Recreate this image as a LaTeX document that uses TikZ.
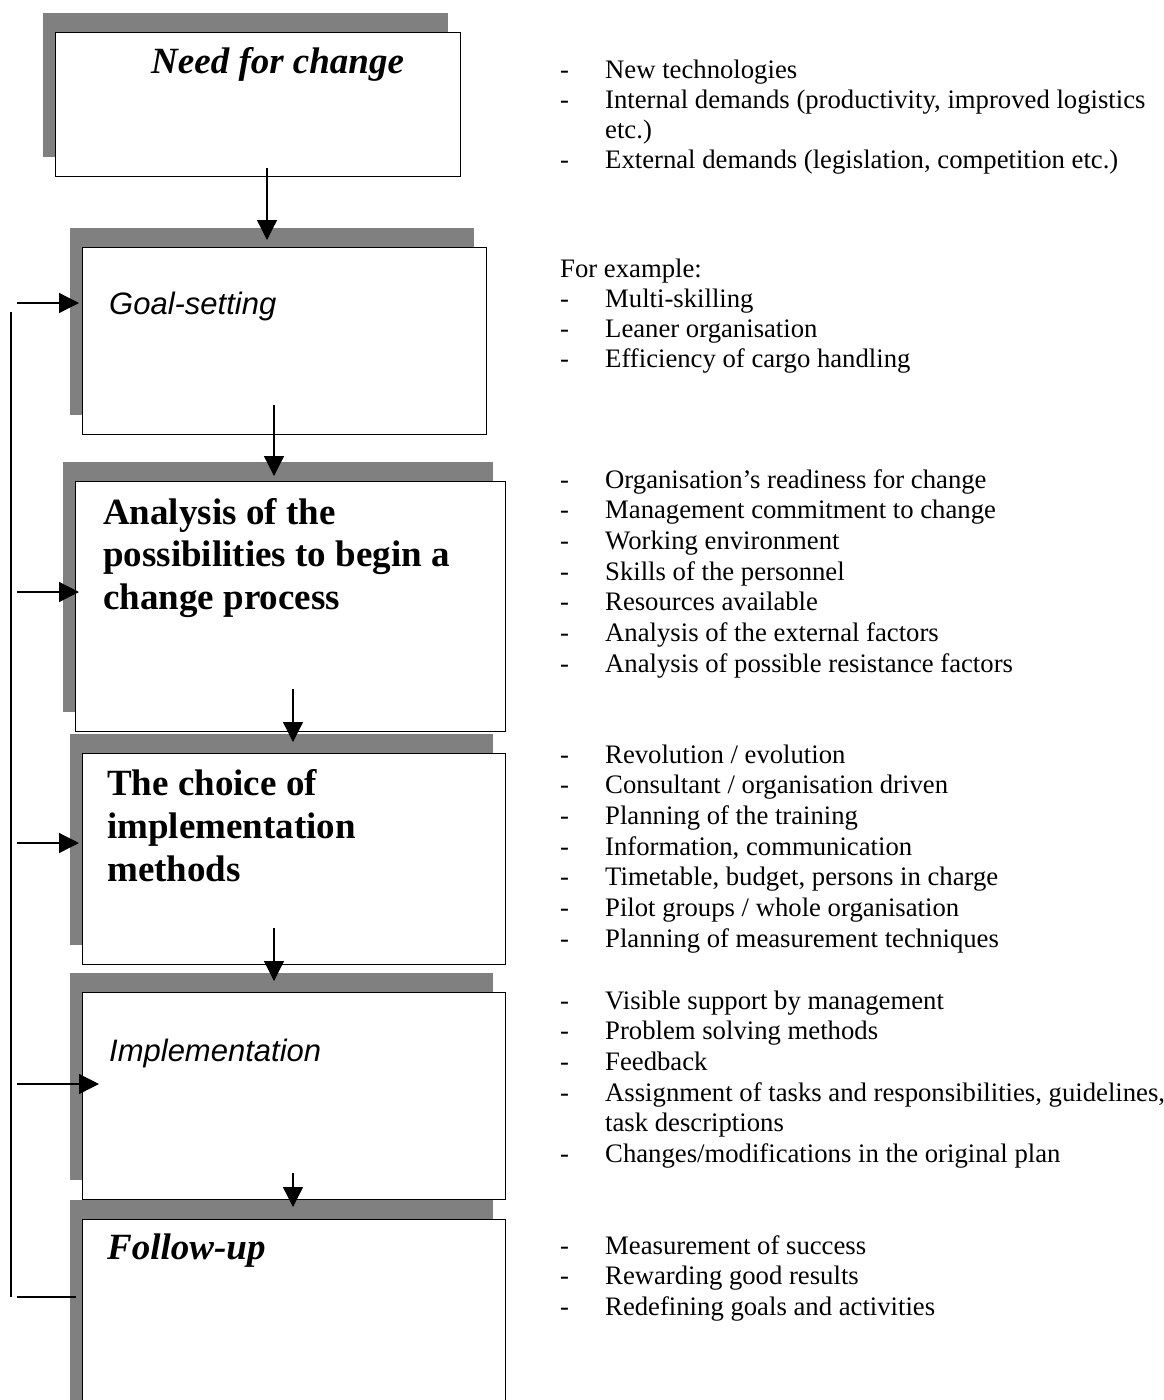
\documentclass[tikz,border=0pt]{standalone}
\usepackage{fontspec}
\setmainfont{Liberation Serif}
\newfontfamily\arialfont{Liberation Sans}
\usetikzlibrary{arrows.meta,calc}

\definecolor{shadowgray}{HTML}{808080}

\begin{document}
\begin{tikzpicture}[x=1pt,y=-1pt,
  stagebox/.style={rectangle, draw=black, line width=1.3pt, fill=white,
    inner sep=0pt, anchor=north west,
    preaction={draw=none, fill=shadowgray,
      transform canvas={shift={(-12.5pt,20pt)}}}},
  boldtitle/.style={anchor=base west, inner sep=0pt,
    font=\fontsize{37}{42.5}\selectfont\bfseries},
  sanstitle/.style={anchor=base west, inner sep=0pt,
    font=\fontsize{31}{36}\selectfont\arialfont\itshape},
  listtext/.style={anchor=base west, inner sep=0pt,
    font=\fontsize{26.7}{30.7}\selectfont},
  flow/.style={line width=1.3pt, -{Triangle[width=20pt,length=20pt]}},
  plain/.style={line width=1.3pt}
]
\useasboundingbox (0,0) rectangle (1163,1400);

% ---- stage boxes with their offset grey shadows
\node[stagebox, minimum width=405pt, minimum height=144pt] (b1) at (55,32) {};
\node[stagebox, minimum width=404pt, minimum height=187pt] (b2) at (82,247) {};
\node[stagebox, minimum width=430pt, minimum height=250pt] (b3) at (75,481) {};
\node[stagebox, minimum width=423pt, minimum height=211pt] (b4) at (82,753) {};
\node[stagebox, minimum width=423pt, minimum height=207pt] (b5) at (82,992) {};
\node[stagebox, minimum width=423pt, minimum height=201pt] (b6) at (82,1219) {};

% ---- stage titles
\node[boldtitle, font=\fontsize{37}{42.5}\selectfont\bfseries\itshape] (t1)
  at ($(b1.north west)+(96,41)$) {Need for change};
\node[sanstitle] (t2) at ($(b2.north west)+(27,67)$) {Goal-setting};
\node[boldtitle] (t3a) at ($(b3.north west)+(28,43)$) {Analysis of the};
\node[boldtitle] (t3b) at ($(t3a.base west)+(0,42.5)$) {possibilities to begin a};
\node[boldtitle] (t3c) at ($(t3b.base west)+(0,42.5)$) {change process};
\node[boldtitle] (t4a) at ($(b4.north west)+(25,42)$) {The choice of};
\node[boldtitle] (t4b) at ($(t4a.base west)+(0,43)$) {implementation};
\node[boldtitle] (t4c) at ($(t4b.base west)+(0,43)$) {methods};
\node[sanstitle] (t5) at ($(b5.north west)+(27,69)$) {Implementation};
\node[boldtitle, font=\fontsize{37}{42.5}\selectfont\bfseries\itshape] (t6)
  at ($(b6.north west)+(25,40)$) {Follow-up};

% ---- downward flow between the stages
\draw[flow] ($(b1.south west)+(212,-9)$) -- ($(b2.north west)+(185,-7)$);
\draw[flow] ($(b2.south west)+(192,-30)$) -- ($(b3.north west)+(199,-5)$);
\draw[flow] ($(b3.south west)+(218,-43)$) -- ($(b4.north west)+(211,-11)$);
\draw[flow] ($(b4.south west)+(192,-37)$) -- ($(b5.north west)+(192,-11)$);
\draw[flow] ($(b5.south west)+(211,-27)$) -- ($(b6.north west)+(211,-12)$);

% ---- feedback loop on the left
\coordinate (loopTop) at (11,312);
\coordinate (loopBot) at (11,1297);
\coordinate (fb2) at (17,303);
\coordinate (fb3) at (17,592);
\coordinate (fb4) at (17,843);
\coordinate (fb5) at (17,1084);
\coordinate (fb6) at (17,1297);
\draw[plain] (loopTop) -- (loopBot);
\draw[flow] (fb2) -- ($(b2.north west)+(-3,56)$);
\draw[flow] (fb3) -- ($(b3.north west)+(4,111)$);
\draw[flow] (fb4) -- ($(b4.north west)+(-3,90)$);
\draw[flow] (fb5) -- ($(b5.north west)+(17,92)$);
\draw[plain] (fb6) -- ($(b6.north west)+(-6,78)$);

% ---- notes beside each stage
\newcommand\bul[1]{\makebox[45pt][l]{-}#1}
\newcommand\cont[1]{\hspace*{45pt}#1}

\node[listtext] (n1a) at (560,78)  {\bul{New technologies}};
\node[listtext] (n1b) at (560,108) {\bul{Internal demands (productivity, improved logistics}};
\node[listtext] (n1c) at (560,138) {\cont{etc.)}};
\node[listtext] (n1d) at (560,168) {\bul{External demands (legislation, competition etc.)}};

\node[listtext] (n2a) at (560,277) {For example:};
\node[listtext] (n2b) at (560,307) {\bul{Multi-skilling}};
\node[listtext] (n2c) at (560,337) {\bul{Leaner organisation}};
\node[listtext] (n2d) at (560,367) {\bul{Efficiency of cargo handling}};

\node[listtext] (n3a) at (560,488) {\bul{Organisation’s readiness for change}};
\node[listtext] (n3b) at (560,518.7) {\bul{Management commitment to change}};
\node[listtext] (n3c) at (560,549.4) {\bul{Working environment}};
\node[listtext] (n3d) at (560,580.1) {\bul{Skills of the personnel}};
\node[listtext] (n3e) at (560,610.8) {\bul{Resources available}};
\node[listtext] (n3f) at (560,641.5) {\bul{Analysis of the external factors}};
\node[listtext] (n3g) at (560,672.2) {\bul{Analysis of possible resistance factors}};

\node[listtext] (n4a) at (560,763) {\bul{Revolution / evolution}};
\node[listtext] (n4b) at (560,793.7) {\bul{Consultant / organisation driven}};
\node[listtext] (n4c) at (560,824.4) {\bul{Planning of the training}};
\node[listtext] (n4d) at (560,855.1) {\bul{Information, communication}};
\node[listtext] (n4e) at (560,885.8) {\bul{Timetable, budget, persons in charge}};
\node[listtext] (n4f) at (560,916.5) {\bul{Pilot groups / whole organisation}};
\node[listtext] (n4g) at (560,947.2) {\bul{Planning of measurement techniques}};

\node[listtext] (n5a) at (560,1009) {\bul{Visible support by management}};
\node[listtext] (n5b) at (560,1039.7) {\bul{Problem solving methods}};
\node[listtext] (n5c) at (560,1070.4) {\bul{Feedback}};
\node[listtext] (n5d) at (560,1101.1) {\bul{Assignment of tasks and responsibilities, guidelines,}};
\node[listtext] (n5e) at (560,1131.8) {\cont{task descriptions}};
\node[listtext] (n5f) at (560,1162.5) {\bul{Changes/modifications in the original plan}};

\node[listtext] (n6a) at (560,1254) {\bul{Measurement of success}};
\node[listtext] (n6b) at (560,1284.7) {\bul{Rewarding good results}};
\node[listtext] (n6c) at (560,1315.4) {\bul{Redefining goals and activities}};
\end{tikzpicture}
\end{document}
